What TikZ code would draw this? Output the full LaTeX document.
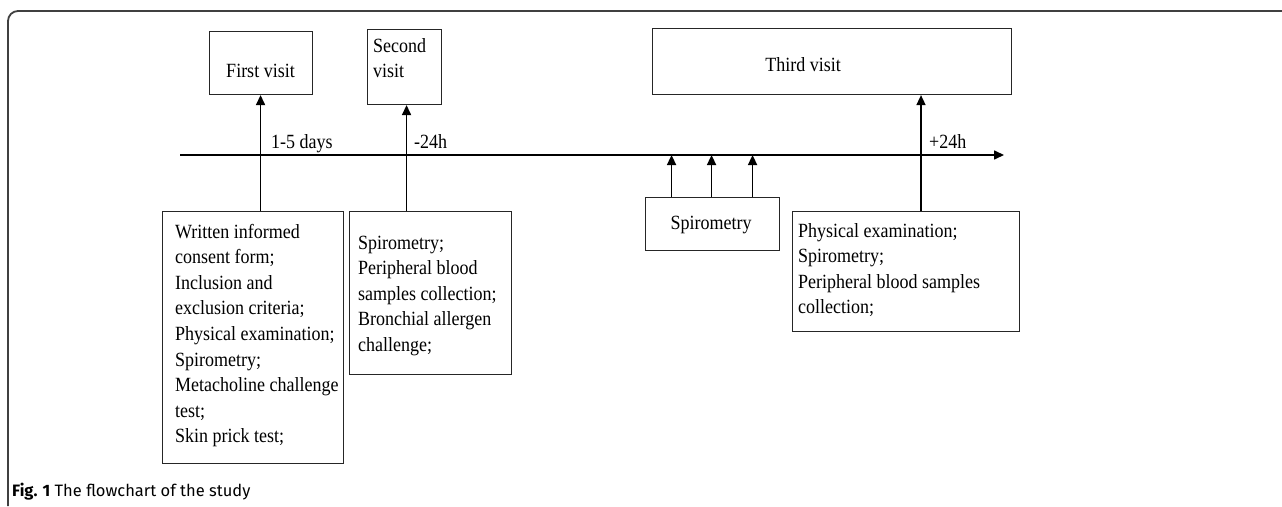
\documentclass[tikz,border=0pt]{standalone}
\usepackage{fontspec}
\usepackage{graphicx}
\setmainfont{Liberation Serif}
\newfontfamily\capfont{Fira Sans}
\usetikzlibrary{arrows.meta}
\newcommand\sy[1]{\scalebox{1}[1.12]{#1}}
\newcommand\txtlines[1]{\sy{\begin{tabular}[t]{@{}l@{}}#1\end{tabular}}}
\begin{document}
\begin{tikzpicture}[x=1pt,y=-1pt,
  box/.style={draw=black!85,line width=1.1pt,rectangle,anchor=north west,inner sep=0pt},
  lbl/.style={inner sep=0pt,font=\fontsize{18}{22.86}\selectfont},
  arr/.style={line width=1.6pt,-{Triangle[length=10pt,width=9pt]}}]
\useasboundingbox (0,0) rectangle (1282,506);
\draw[line width=1.8pt,black!75,rounded corners=10pt] (8,506) -- (8,11) -- (1282,11);
% boxes
\node[box,minimum width=103pt,minimum height=63pt] (fv) at (209,31) {};
\node[box,minimum width=74pt,minimum height=75pt] (sv) at (367,29) {};
\node[box,minimum width=359pt,minimum height=66pt] (tv) at (652,28) {};
\node[box,minimum width=181pt,minimum height=252pt] (b1) at (162,211) {};
\node[box,minimum width=162pt,minimum height=163pt] (b2) at (349,211) {};
\node[box,minimum width=134pt,minimum height=53pt] (sp) at (645,197) {};
\node[box,minimum width=227pt,minimum height=120pt] (b3) at (792,211) {};
% texts
\node[lbl,anchor=base] (fvt) at (260.5,77) {\sy{First visit}};
\node[lbl,anchor=base west] (svt) at (373,52) {\txtlines{Second\\visit}};
\node[lbl,anchor=base] (tvt) at (803,71) {\sy{Third visit}};
\node[lbl,anchor=base] (spt) at (711,229) {\sy{Spirometry}};
\node[lbl,anchor=base west] (b1t) at (175,238) {\txtlines{Written informed\\consent form;\\Inclusion and\\exclusion criteria;\\Physical examination;\\Spirometry;\\Metacholine challenge\\test;\\Skin prick test;}};
\node[lbl,anchor=base west] (b2t) at (358,249) {\txtlines{Spirometry;\\Peripheral blood\\samples collection;\\Bronchial allergen\\challenge;}};
\node[lbl,anchor=base west] (b3t) at (798,237) {\txtlines{Physical examination;\\Spirometry;\\Peripheral blood samples\\collection;}};
% timeline
\coordinate (tl0) at (180,155);
\coordinate (tl1) at (1004,155);
\draw[arr] (tl0) -- (tl1);
\node[lbl,anchor=base west] (d15) at (271,148) {\sy{1-5 days}};
\node[lbl,anchor=base west] (m24) at (414,148) {\sy{-24h}};
\node[lbl,anchor=base west] (p24) at (929,148) {\sy{+24h}};
% arrows
\draw[arr] ([xshift=-0.5pt]fv.south |- b1.north) -- ([xshift=-0.5pt]fv.south);
\draw[arr] ([xshift=2pt]sv.south |- b2.north) -- ([xshift=2pt]sv.south);
\coordinate (a3) at (921,211);
\draw[arr] (a3) -- (a3 |- tv.south);
\draw[arr] ([xshift=-41pt]sp.north) -- ([xshift=-41pt]sp.north |- tl0);
\draw[arr] ([xshift=-1pt]sp.north) -- ([xshift=-1pt]sp.north |- tl0);
\draw[arr] ([xshift=40pt]sp.north) -- ([xshift=40pt]sp.north |- tl0);
% caption
\node[anchor=base west,inner sep=0pt,font=\capfont\fontsize{16.5}{20}\selectfont] (cap) at (12,496) {\textbf{Fig. 1} The flowchart of the study};
\end{tikzpicture}
\end{document}
